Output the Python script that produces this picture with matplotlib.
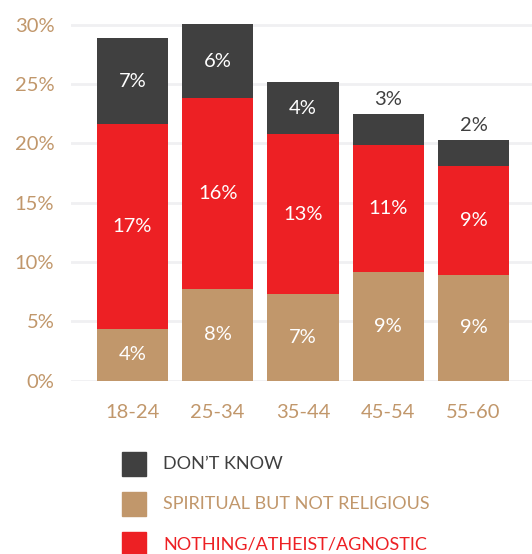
import matplotlib.pyplot as plt
from matplotlib.patches import Rectangle

plt.rcParams['font.family'] = ['Lato', 'DejaVu Sans']

age_groups = ['18-24', '25-34', '35-44', '45-54', '55-60']
spiritual = [4.36, 7.73, 7.30, 9.18, 8.90]
nothing = [17.27, 16.09, 13.45, 10.68, 9.19]
dont_know = [7.24, 6.23, 4.45, 2.61, 2.19]
y_ticks = [0, 5, 10, 15, 20, 25, 30]

dark = '#404040'
tan = '#c1976b'
red = '#ed2024'

fig = plt.figure(figsize=(5.32, 5.54), dpi=100)
ax = fig.add_axes([0.1335, 0.3128, 0.8665, 0.6641])

x = list(range(len(age_groups)))
w = 0.833
base2 = [a + b for a, b in zip(spiritual, nothing)]
b1 = ax.bar(x, spiritual, w, color=tan, zorder=3)
b2 = ax.bar(x, nothing, w, bottom=spiritual, color=red, zorder=3)
b3 = ax.bar(x, dont_know, w, bottom=base2, color=dark, zorder=3)

for i in x:
    ax.text(i, spiritual[i] / 2, f'{round(spiritual[i])}%', ha='center',
            va='center', color='white', fontsize=14.5, zorder=4)
    ax.text(i, spiritual[i] + nothing[i] / 2, f'{round(nothing[i])}%',
            ha='center', va='center', color='white', fontsize=14.5, zorder=4)
    top = base2[i] + dont_know[i]
    if dont_know[i] >= 4:
        ax.text(i, base2[i] + dont_know[i] / 2, f'{round(dont_know[i])}%',
                ha='center', va='center', color='white', fontsize=14.5, zorder=4)
    else:
        ax.annotate(f'{round(dont_know[i])}%', (i, top), xytext=(0, 4),
                    textcoords='offset points', ha='center', va='bottom',
                    color=dark, fontsize=14.5)

ax.set_xlim(-0.721, 4.686)
ax.set_ylim(0, 31)
ax.set_yticks(y_ticks)
ax.set_yticklabels([f'{t}%' for t in y_ticks])
ax.set_xticks(x)
ax.set_xticklabels(age_groups)
ax.tick_params(axis='y', length=0, pad=12, labelsize=14.5, labelcolor=tan)
ax.tick_params(axis='x', length=0, pad=17, labelsize=14.5, labelcolor=tan)
for t in y_ticks:
    ax.axhline(t, color='#f0f0f2', lw=2, zorder=1)
for s in ax.spines.values():
    s.set_visible(False)

# legend drawn by hand below the axes
entries = [('DON\u2019T KNOW', dark), ('SPIRITUAL BUT NOT RELIGIOUS', tan),
           ('NOTHING/ATHEIST/AGNOSTIC', red)]
W, H = 532, 554
for k, (label, c) in enumerate(entries):
    yc = 464 + 40 * k
    fig.patches.append(Rectangle((122 / W, 1 - (yc + 12) / H), 24 / W, 24 / H,
                                 transform=fig.transFigure, color=c))
    fig.text(163 / W, 1 - yc / H, label, color=c, fontsize=13,
             va='center', ha='left')

fig.savefig('out.png', dpi=100)
